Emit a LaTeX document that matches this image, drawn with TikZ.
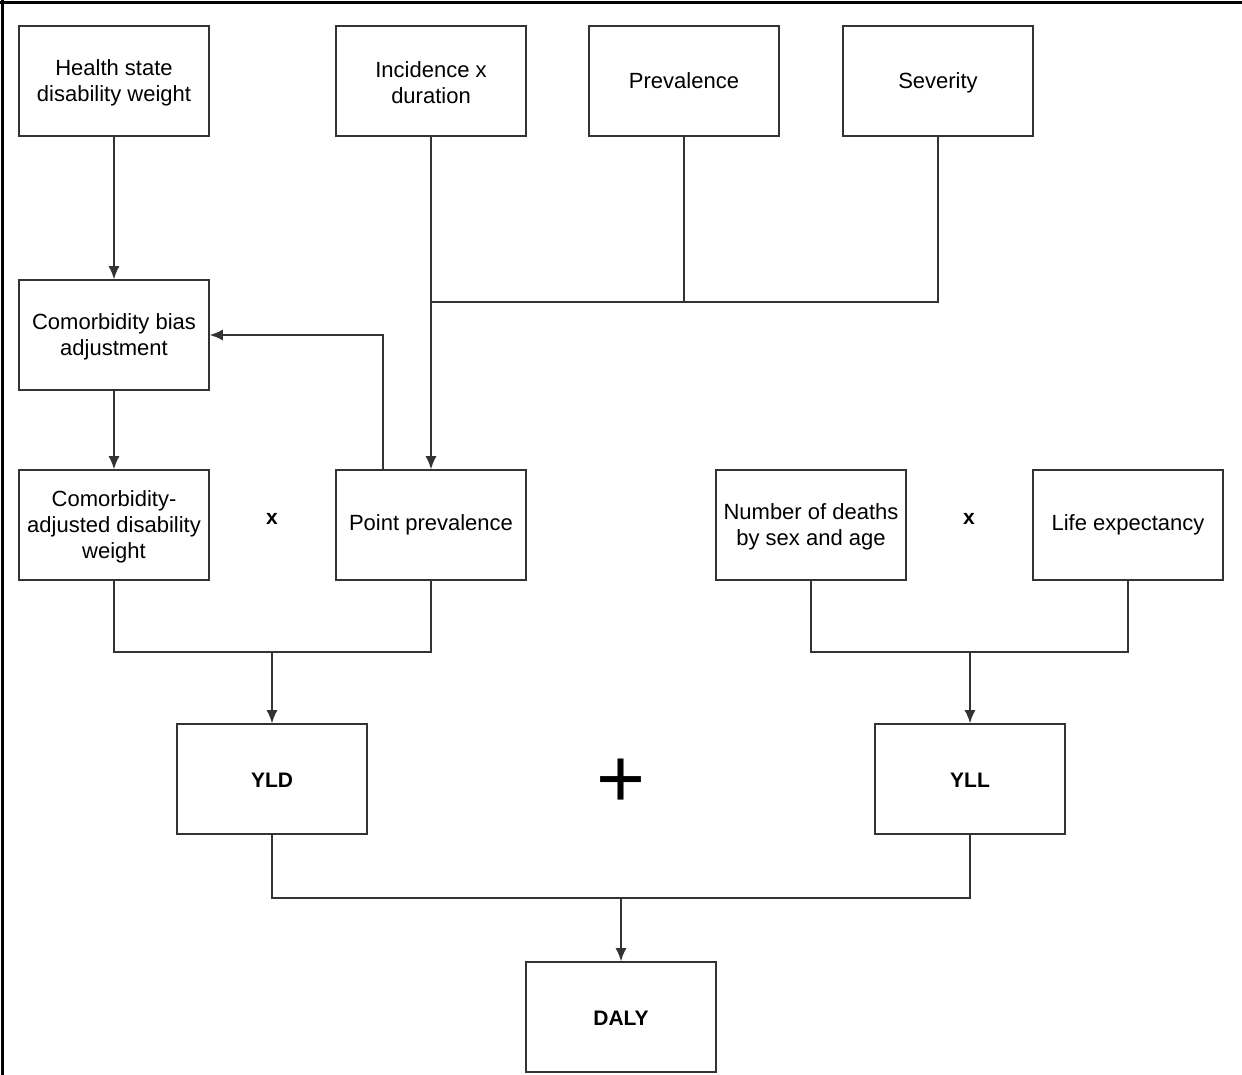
\documentclass[tikz,border=0pt]{standalone}
\usepackage{fontspec}
\setmainfont{Liberation Sans}
\usetikzlibrary{arrows.meta}
\begin{document}
\begin{tikzpicture}[x=1pt,y=-1pt,
  box/.style={draw=black!80,line width=1.6pt,minimum width=190pt,minimum height=110pt,
    inner sep=0pt},
  txt/.style={align=center,inner sep=0pt,font=\fontsize{22}{26}\selectfont},
  mtxt/.style={txt,yshift=-2pt},
  btxt/.style={align=center,inner sep=0pt,yshift=-1pt,font=\fontsize{21}{26}\selectfont\bfseries},
  conn/.style={draw=black!80,line width=1.6pt},
  arr/.style={conn,-{Latex[length=13pt,width=11pt]}},
  op/.style={font=\fontsize{21}{26}\selectfont\bfseries,inner sep=0pt}]
\useasboundingbox (0,0) rectangle (1242,1075);
\draw[line width=3pt] (0,2.5) -- (1242,2.5);
\draw[line width=3pt] (2,0) -- (2,1075);
% row 1
\node[box,label={[mtxt]center:{Health state\\disability weight}}] (hsdw) at (114,81) {};
\node[box,label={[mtxt]center:{Incidence x\\duration}}] (inc) at (431,81) {};
\node[box,label={[txt]center:{Prevalence}}] (prev) at (684,81) {};
\node[box,label={[mtxt]center:{Severity}}] (sev) at (938,81) {};
% row 2
\node[box,label={[mtxt]center:{Comorbidity bias\\adjustment}}] (cba) at (114,335) {};
% row 3
\node[box,label={[mtxt]center:{Comorbidity-\\adjusted disability\\weight}}] (cadw) at (114,525) {};
\node[box,label={[txt]center:{Point prevalence}}] (pp) at (431,525) {};
\node[box,label={[mtxt]center:{Number of deaths\\by sex and age}}] (nd) at (811,525) {};
\node[box,label={[txt]center:{Life expectancy}}] (le) at (1128,525) {};
\node[op] (x1) at (272,519) {x};
\node[op] (x2) at (969,519) {x};
% row 4
\node[box,label={[btxt]center:{YLD}}] (yld) at (272,779) {};
\node[box,label={[btxt]center:{YLL}}] (yll) at (970,779) {};
\node[inner sep=0pt,font=\fontsize{84}{84}\selectfont] (plus) at (621,783) {+};
% row 5
\node[box,label={[btxt]center:{DALY}}] (daly) at (621,1017) {};
% connectors
\draw[arr] (hsdw.south) -- (cba.north);
\draw[arr] (cba.south) -- (cadw.north);
\draw[arr] (inc.south) -- (pp.north);
\coordinate (j1) at (431,302);
\draw[conn] (prev.south) |- (j1);
\draw[conn] (sev.south) |- (j1);
\draw[arr] ([xshift=-48pt]pp.north) |- (cba.east);
\coordinate (m1) at (272,652);
\draw[conn] (cadw.south) |- (m1) -| (pp.south);
\draw[arr] (m1) -- (yld.north);
\coordinate (m2) at (970,652);
\draw[conn] (nd.south) |- (m2) -| (le.south);
\draw[arr] (m2) -- (yll.north);
\coordinate (m3) at (621,898);
\draw[conn] (yld.south) |- (m3) -| (yll.south);
\draw[arr] (m3) -- (daly.north);
\end{tikzpicture}
\end{document}
